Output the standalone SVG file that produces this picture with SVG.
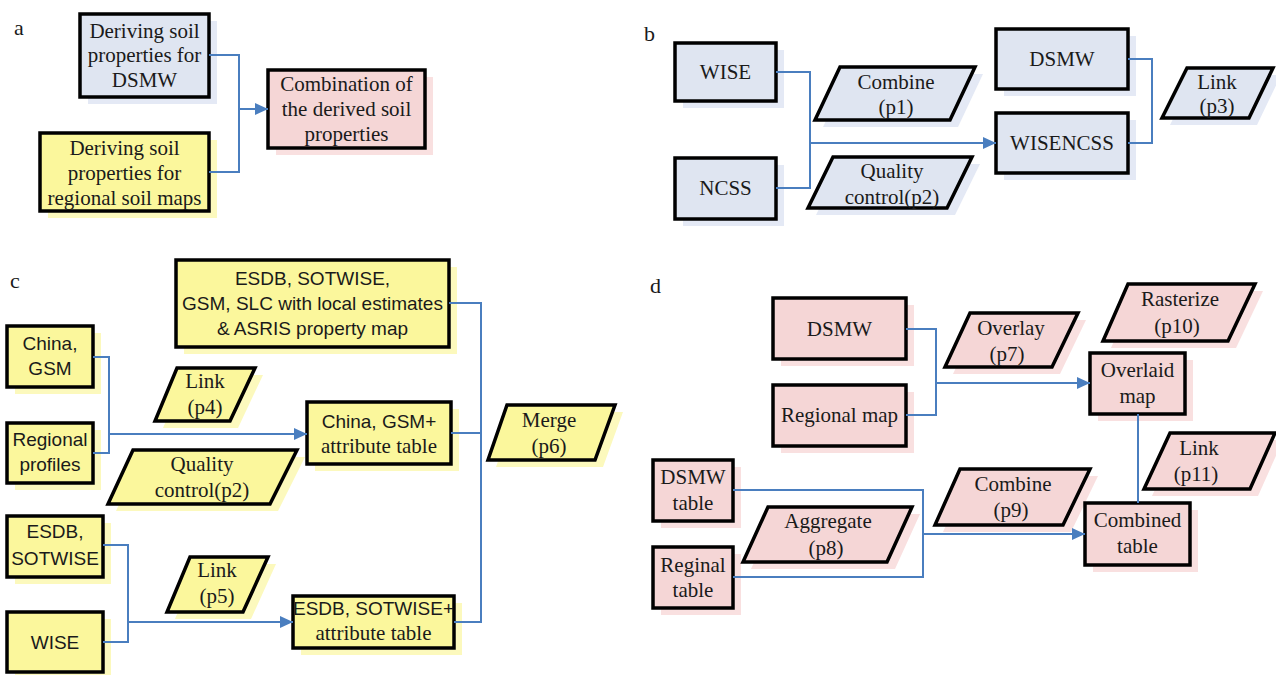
<svg xmlns="http://www.w3.org/2000/svg" width="1276" height="675" viewBox="0 0 1276 675">
<style>
.bg{fill:#ffffff}
.box{stroke:#000;stroke-width:3.5;stroke-linejoin:miter}
.blue{fill:#dfe5f1}
.yellow{fill:#fbf79c}
.pink{fill:#f5d6d6}
.sh-blue{fill:#e4e9f5}
.sh-yellow{fill:#fcf9bd}
.sh-pink{fill:#f9e0e0}
.t{font-family:"Liberation Serif","Times New Roman",serif;font-size:21px;fill:#1a1a1a;text-anchor:middle}
.s{font-family:"Liberation Sans",Arial,sans-serif;font-size:19px;fill:#1a1a1a;text-anchor:middle}
.lbl{font-family:"Liberation Serif","Times New Roman",serif;font-size:22px;fill:#1a1a1a}
.con{fill:none;stroke:#4a7ebf;stroke-width:2}
.arr{marker-end:url(#ah)}
</style>
<defs>
<marker id="ah" markerUnits="userSpaceOnUse" markerWidth="13" markerHeight="12" refX="13" refY="6" orient="auto">
<path d="M0,0 L13,6 L0,12 z" fill="#4a7ebf"/>
</marker>
</defs>
<rect class="bg" x="0" y="0" width="1276" height="675"/>

<!-- panel labels -->
<text class="lbl" x="14" y="35">a</text>
<text class="lbl" x="644" y="41">b</text>
<text class="lbl" x="10" y="288">c</text>
<text class="lbl" x="650" y="293">d</text>

<!-- ===== Panel a ===== -->
<g id="a-dsmw">
<rect class="sh-blue" x="88" y="21" width="129" height="83"/>
<rect class="box blue" x="80" y="14" width="129" height="83"/>
<text class="t"><tspan x="144.5" y="38">Deriving soil</tspan><tspan x="144.5" y="62">properties for</tspan><tspan x="144.5" y="87">DSMW</tspan></text>
</g>
<g id="a-regional">
<rect class="sh-yellow" x="48" y="140" width="169" height="78"/>
<rect class="box yellow" x="40" y="133" width="169" height="78"/>
<text class="t"><tspan x="124.5" y="155">Deriving soil</tspan><tspan x="124.5" y="180">properties for</tspan><tspan x="124.5" y="205">regional soil maps</tspan></text>
</g>
<g id="a-combination">
<rect class="sh-pink" x="276" y="77" width="157" height="78"/>
<rect class="box pink" x="268" y="70" width="157" height="78"/>
<text class="t"><tspan x="346.5" y="91">Combination of</tspan><tspan x="346.5" y="116">the derived soil</tspan><tspan x="346.5" y="141">properties</tspan></text>
</g>

<!-- ===== Panel b ===== -->
<g id="b-wise">
<rect class="sh-blue" x="683" y="50" width="101" height="58"/>
<rect class="box blue" x="675" y="43" width="101" height="58"/>
<text class="t" x="725.5" y="79">WISE</text>
</g>
<g id="b-ncss">
<rect class="sh-blue" x="683" y="165" width="101" height="61"/>
<rect class="box blue" x="675" y="158" width="101" height="61"/>
<text class="t" x="725.5" y="195">NCSS</text>
</g>
<g id="b-combine">
<polygon class="sh-blue" points="848,74 983,74 958,127 823,127"/>
<polygon class="box blue" points="840,67 975,67 950,120 815,120"/>
<text class="t"><tspan x="896" y="89">Combine</tspan><tspan x="896" y="114">(p1)</tspan></text>
</g>
<g id="b-quality">
<polygon class="sh-blue" points="841,164 980,164 955,215 816,215"/>
<polygon class="box blue" points="833,157 972,157 947,208 808,208"/>
<text class="t"><tspan x="892" y="178">Quality</tspan><tspan x="892" y="204">control(p2)</tspan></text>
</g>
<g id="b-dsmw">
<rect class="sh-blue" x="1004" y="36" width="132" height="60"/>
<rect class="box blue" x="996" y="29" width="132" height="60"/>
<text class="t" x="1062" y="66">DSMW</text>
</g>
<g id="b-wisencss">
<rect class="sh-blue" x="1004" y="120" width="132" height="60"/>
<rect class="box blue" x="996" y="113" width="132" height="60"/>
<text class="t" x="1062" y="150">WISENCSS</text>
</g>
<g id="b-link">
<polygon class="sh-blue" points="1195,75 1281,75 1257,125 1170,125"/>
<polygon class="box blue" points="1187,68 1273,68 1249,118 1162,118"/>
<text class="t"><tspan x="1217" y="89">Link</tspan><tspan x="1217" y="113">(p3)</tspan></text>
</g>

<!-- ===== Panel c ===== -->
<g id="c-esdb-maps">
<rect class="sh-yellow" x="184" y="267" width="273" height="87"/>
<rect class="box yellow" x="176" y="260" width="273" height="87"/>
<text class="s"><tspan x="312.5" y="285">ESDB, SOTWISE,</tspan><tspan x="312.5" y="310">GSM, SLC with local estimates</tspan><tspan x="312.5" y="335">&amp; ASRIS property map</tspan></text>
</g>
<g id="c-china">
<rect class="sh-yellow" x="15" y="333" width="86" height="61"/>
<rect class="box yellow" x="7" y="326" width="86" height="61"/>
<text class="s"><tspan x="50" y="350">China,</tspan><tspan x="50" y="375">GSM</tspan></text>
</g>
<g id="c-regional">
<rect class="sh-yellow" x="15" y="430" width="86" height="60"/>
<rect class="box yellow" x="7" y="423" width="86" height="60"/>
<text class="s"><tspan x="50" y="446">Regional</tspan><tspan x="50" y="471">profiles</tspan></text>
</g>
<g id="c-link4">
<polygon class="sh-yellow" points="185,375 263,375 238,428 163,428"/>
<polygon class="box yellow" points="177,368 255,368 230,421 155,421"/>
<text class="t"><tspan x="205" y="388">Link</tspan><tspan x="205" y="414">(p4)</tspan></text>
</g>
<g id="c-quality">
<polygon class="sh-yellow" points="141,457 305,457 278,511 116,511"/>
<polygon class="box yellow" points="133,450 297,450 270,504 108,504"/>
<text class="t"><tspan x="202" y="471">Quality</tspan><tspan x="202" y="497">control(p2)</tspan></text>
</g>
<g id="c-chinagsm-table">
<rect class="sh-yellow" x="315" y="409" width="144" height="62"/>
<rect class="box yellow" x="307" y="402" width="144" height="62"/>
<text class="s" x="379" y="428">China, GSM+</text>
<text class="t" x="379" y="453">attribute table</text>
</g>
<g id="c-merge">
<polygon class="sh-yellow" points="515,412 623,412 603,467 496,467"/>
<polygon class="box yellow" points="507,405 615,405 595,460 488,460"/>
<text class="t"><tspan x="549" y="427">Merge</tspan><tspan x="549" y="453">(p6)</tspan></text>
</g>
<g id="c-esdb">
<rect class="sh-yellow" x="15" y="523" width="96" height="61"/>
<rect class="box yellow" x="7" y="516" width="96" height="61"/>
<text class="s"><tspan x="55" y="538">ESDB,</tspan><tspan x="55" y="565">SOTWISE</tspan></text>
</g>
<g id="c-wise">
<rect class="sh-yellow" x="15" y="619" width="96" height="60"/>
<rect class="box yellow" x="7" y="612" width="96" height="60"/>
<text class="s" x="55" y="649">WISE</text>
</g>
<g id="c-link5">
<polygon class="sh-yellow" points="198,564 276,564 251,619 175,619"/>
<polygon class="box yellow" points="190,557 268,557 243,612 167,612"/>
<text class="t"><tspan x="217" y="577">Link</tspan><tspan x="217" y="603">(p5)</tspan></text>
</g>
<g id="c-esdb-table">
<rect class="sh-yellow" x="301" y="603" width="161" height="52"/>
<rect class="box yellow" x="293" y="596" width="161" height="52"/>
<text class="s" x="373.5" y="615">ESDB, SOTWISE+</text>
<text class="t" x="373.5" y="640">attribute table</text>
</g>

<!-- ===== Panel d ===== -->
<g id="d-dsmw">
<rect class="sh-pink" x="781" y="305" width="133" height="61"/>
<rect class="box pink" x="773" y="298" width="133" height="61"/>
<text class="t" x="839.5" y="336">DSMW</text>
</g>
<g id="d-regional-map">
<rect class="sh-pink" x="781" y="392" width="133" height="61"/>
<rect class="box pink" x="773" y="385" width="133" height="61"/>
<text class="t" x="839.5" y="422">Regional map</text>
</g>
<g id="d-overlay">
<polygon class="sh-pink" points="978,320 1086,320 1060,374 953,374"/>
<polygon class="box pink" points="970,313 1078,313 1052,367 945,367"/>
<text class="t"><tspan x="1011" y="335">Overlay</tspan><tspan x="1007" y="361">(p7)</tspan></text>
</g>
<g id="d-rasterize">
<polygon class="sh-pink" points="1136,291 1263,291 1236,348 1111,348"/>
<polygon class="box pink" points="1128,284 1255,284 1228,341 1103,341"/>
<text class="t"><tspan x="1180" y="306">Rasterize</tspan><tspan x="1177" y="333">(p10)</tspan></text>
</g>
<g id="d-overlaid">
<rect class="sh-pink" x="1098" y="360" width="95" height="61"/>
<rect class="box pink" x="1090" y="353" width="95" height="61"/>
<text class="t"><tspan x="1137.5" y="377">Overlaid</tspan><tspan x="1137.5" y="403">map</tspan></text>
</g>
<g id="d-link11">
<polygon class="sh-pink" points="1178,440 1283,440 1258,496 1152,496"/>
<polygon class="box pink" points="1170,433 1275,433 1250,489 1144,489"/>
<text class="t"><tspan x="1199" y="455">Link</tspan><tspan x="1196" y="481">(p11)</tspan></text>
</g>
<g id="d-dsmw-table">
<rect class="sh-pink" x="661" y="467" width="80" height="61"/>
<rect class="box pink" x="653" y="460" width="80" height="61"/>
<text class="t"><tspan x="693" y="484">DSMW</tspan><tspan x="693" y="510">table</tspan></text>
</g>
<g id="d-reginal-table">
<rect class="sh-pink" x="661" y="554" width="80" height="61"/>
<rect class="box pink" x="653" y="547" width="80" height="61"/>
<text class="t"><tspan x="693" y="572">Reginal</tspan><tspan x="693" y="597">table</tspan></text>
</g>
<g id="d-aggregate">
<polygon class="sh-pink" points="776,514 920,514 895,569 751,569"/>
<polygon class="box pink" points="768,507 912,507 887,562 743,562"/>
<text class="t"><tspan x="828" y="528">Aggregate</tspan><tspan x="826" y="555">(p8)</tspan></text>
</g>
<g id="d-combine">
<polygon class="sh-pink" points="968,476 1098,476 1071,532 943,532"/>
<polygon class="box pink" points="960,469 1090,469 1063,525 935,525"/>
<text class="t"><tspan x="1013" y="491">Combine</tspan><tspan x="1011" y="517">(p9)</tspan></text>
</g>
<g id="d-combined-table">
<rect class="sh-pink" x="1093" y="510" width="105" height="62"/>
<rect class="box pink" x="1085" y="503" width="105" height="62"/>
<text class="t"><tspan x="1137.5" y="527">Combined</tspan><tspan x="1137.5" y="553">table</tspan></text>
</g>

<!-- ===== Connectors ===== -->
<g id="connectors">
<path class="con" d="M209,55 H239 V172 H209"/>
<path class="con arr" d="M239,109 H268"/>

<path class="con" d="M776,72 H810 V188 H776"/>
<path class="con arr" d="M810,143 H996"/>
<path class="con" d="M1128,59 H1152 V143 H1128"/>

<path class="con" d="M93,357 H109 V453 H93"/>
<path class="con arr" d="M109,434 H307"/>
<path class="con" d="M103,545 H128 V642 H103"/>
<path class="con arr" d="M128,622 H293"/>
<path class="con" d="M449,303 H481 V622 H454"/>
<path class="con" d="M451,433 H481"/>

<path class="con" d="M906,329 H936 V415 H906"/>
<path class="con arr" d="M936,383 H1090"/>
<path class="con" d="M733,490 H923 V577 H733"/>
<path class="con arr" d="M923,534 H1085"/>
<path class="con" d="M1138,414 V503"/>
</g>
</svg>
